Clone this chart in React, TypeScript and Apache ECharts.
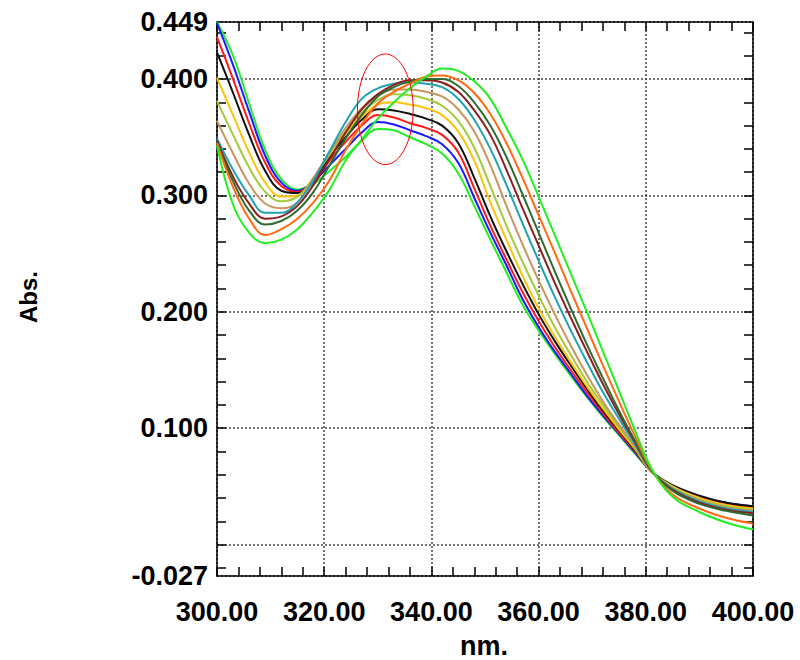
import React, { useEffect, useRef } from 'react';
import * as echarts from 'echarts';

// Wavelengths (nm) at which absorbance was read
const WAVELENGTHS = [300, 303, 306, 309, 312, 315, 318, 321, 324, 327, 330, 333, 336, 339, 342, 345, 348, 351, 354, 357, 360, 363, 366, 369, 372, 375, 378, 381, 385, 390, 395, 400];

// Absorbance of each spectrum (12 scans)
const ABS_1 = [0.449, 0.420, 0.379, 0.339, 0.314, 0.305, 0.310, 0.321, 0.333, 0.347, 0.357, 0.356, 0.350, 0.344, 0.336, 0.319, 0.291, 0.262, 0.234, 0.206, 0.184, 0.164, 0.145, 0.127, 0.110, 0.094, 0.078, 0.063, 0.050, 0.041, 0.036, 0.033];
const ABS_2 = [0.448, 0.412, 0.372, 0.334, 0.311, 0.304, 0.312, 0.326, 0.340, 0.354, 0.363, 0.361, 0.356, 0.351, 0.344, 0.328, 0.298, 0.268, 0.240, 0.211, 0.187, 0.166, 0.147, 0.128, 0.111, 0.095, 0.079, 0.063, 0.050, 0.041, 0.036, 0.033];
const ABS_3 = [0.436, 0.400, 0.362, 0.328, 0.308, 0.303, 0.313, 0.330, 0.346, 0.360, 0.369, 0.367, 0.362, 0.358, 0.352, 0.337, 0.306, 0.274, 0.245, 0.217, 0.192, 0.170, 0.150, 0.131, 0.113, 0.096, 0.080, 0.063, 0.050, 0.041, 0.035, 0.032];
const ABS_4 = [0.423, 0.388, 0.352, 0.321, 0.304, 0.302, 0.314, 0.333, 0.350, 0.365, 0.374, 0.373, 0.370, 0.366, 0.360, 0.345, 0.315, 0.282, 0.252, 0.224, 0.198, 0.175, 0.154, 0.134, 0.115, 0.098, 0.081, 0.063, 0.051, 0.042, 0.036, 0.033];
const ABS_5 = [0.401, 0.369, 0.337, 0.311, 0.299, 0.300, 0.315, 0.335, 0.353, 0.368, 0.378, 0.380, 0.378, 0.375, 0.369, 0.355, 0.330, 0.294, 0.262, 0.231, 0.203, 0.179, 0.157, 0.136, 0.117, 0.099, 0.082, 0.063, 0.050, 0.040, 0.034, 0.031];
const ABS_6 = [0.381, 0.352, 0.324, 0.303, 0.295, 0.299, 0.315, 0.336, 0.355, 0.371, 0.382, 0.387, 0.386, 0.383, 0.377, 0.364, 0.341, 0.308, 0.274, 0.243, 0.214, 0.187, 0.163, 0.140, 0.120, 0.101, 0.083, 0.063, 0.049, 0.039, 0.033, 0.030];
const ABS_7 = [0.364, 0.336, 0.310, 0.293, 0.289, 0.294, 0.315, 0.337, 0.358, 0.375, 0.386, 0.391, 0.391, 0.389, 0.385, 0.374, 0.355, 0.326, 0.291, 0.258, 0.227, 0.198, 0.171, 0.146, 0.123, 0.103, 0.084, 0.063, 0.048, 0.038, 0.032, 0.029];
const ABS_8 = [0.349, 0.322, 0.300, 0.285, 0.285, 0.294, 0.313, 0.338, 0.363, 0.383, 0.392, 0.396, 0.397, 0.396, 0.393, 0.383, 0.365, 0.340, 0.309, 0.276, 0.244, 0.213, 0.184, 0.157, 0.131, 0.108, 0.086, 0.064, 0.048, 0.037, 0.031, 0.028];
const ABS_9 = [0.347, 0.316, 0.293, 0.280, 0.282, 0.291, 0.309, 0.331, 0.354, 0.374, 0.387, 0.395, 0.399, 0.399, 0.397, 0.389, 0.373, 0.352, 0.322, 0.289, 0.257, 0.225, 0.195, 0.166, 0.138, 0.112, 0.088, 0.064, 0.047, 0.036, 0.030, 0.027];
const ABS_10 = [0.346, 0.312, 0.287, 0.275, 0.278, 0.287, 0.303, 0.326, 0.349, 0.369, 0.385, 0.393, 0.398, 0.400, 0.400, 0.394, 0.380, 0.360, 0.333, 0.301, 0.268, 0.235, 0.203, 0.172, 0.143, 0.115, 0.089, 0.064, 0.046, 0.035, 0.029, 0.025];
const ABS_11 = [0.345, 0.307, 0.280, 0.266, 0.271, 0.280, 0.294, 0.313, 0.339, 0.361, 0.379, 0.389, 0.396, 0.402, 0.403, 0.399, 0.388, 0.370, 0.345, 0.315, 0.283, 0.251, 0.218, 0.186, 0.154, 0.123, 0.093, 0.065, 0.043, 0.031, 0.023, 0.018];
const ABS_12 = [0.343, 0.292, 0.268, 0.259, 0.262, 0.271, 0.286, 0.305, 0.330, 0.348, 0.366, 0.380, 0.392, 0.402, 0.409, 0.407, 0.398, 0.383, 0.358, 0.331, 0.299, 0.266, 0.233, 0.200, 0.166, 0.132, 0.098, 0.066, 0.041, 0.028, 0.019, 0.013];

const SPECTRA = [ABS_1, ABS_2, ABS_3, ABS_4, ABS_5, ABS_6, ABS_7, ABS_8, ABS_9, ABS_10, ABS_11, ABS_12];
const COLORS = ['#22ee22', '#1a1aff', '#ff1a1a', '#111111', '#ffc20e', '#a4c93a', '#c8955f', '#1fa3b3', '#8b1f1f', '#2e6b2e', '#ff6a13', '#22ee22'];

// Axis setup
const X_MIN = 300;
const X_MAX = 400;
const X_STEP = 20;
const Y_MIN = -0.027;
const Y_MAX = 0.449;
const Y_MINOR_TICKS = [-0.02, 0, 0.02, 0.04, 0.06, 0.08, 0.1, 0.12, 0.14, 0.16, 0.18, 0.2, 0.22, 0.24, 0.26, 0.28, 0.3, 0.32, 0.34, 0.36, 0.38, 0.4, 0.42, 0.44];

// Red ellipse annotation (in data units)
const ELLIPSE_CENTER = [331.4, 0.374];
const ELLIPSE_HALF_NM = 5.2;
const ELLIPSE_HALF_ABS = 0.0475;

const FONT = '"Liberation Sans", Arial, sans-serif';

export default function App() {
  const ref = useRef<HTMLDivElement>(null);

  useEffect(() => {
    if (!ref.current) return;
    const chart = echarts.init(ref.current, null, { renderer: 'svg' });

    const axisLine = { show: true, onZero: false, lineStyle: { color: '#000', width: 1.5 } };
    const tickStyle = { color: '#000', width: 1.5 };
    const gridLine = { show: true, lineStyle: { color: '#444', width: 1.5, type: [2, 2] as any } };

    const series = SPECTRA.map((vals, i) => ({
      type: 'line',
      name: 'scan ' + (i + 1),
      xAxisIndex: 0,
      yAxisIndex: 0,
      data: WAVELENGTHS.map((w, j) => [w, vals[j]]),
      smooth: 0.4,
      showSymbol: false,
      symbol: 'none',
      clip: true,
      lineStyle: { color: COLORS[i], width: 2 },
      itemStyle: { color: COLORS[i] },
    }));

    chart.setOption({
      animation: false,
      backgroundColor: '#fff',
      grid: { left: 217, right: 47, top: 22, bottom: 84, containLabel: false },
      xAxis: [
        {
          type: 'value', position: 'bottom', min: X_MIN, max: X_MAX, interval: X_STEP,
          axisLine,
          axisTick: { show: true, inside: true, length: 9, lineStyle: tickStyle },
          minorTick: { show: true, splitNumber: 5, length: 9, lineStyle: tickStyle },
          axisLabel: {
            formatter: (v: number) => v.toFixed(2),
            fontSize: 27, fontWeight: 'bold', color: '#000', fontFamily: FONT, margin: 22,
          },
          splitLine: gridLine,
        },
        {
          type: 'value', position: 'top', min: X_MIN, max: X_MAX, interval: X_STEP,
          axisLine,
          axisTick: { show: true, inside: true, length: 9, lineStyle: tickStyle },
          minorTick: { show: true, splitNumber: 5, length: 9, lineStyle: tickStyle },
          axisLabel: { show: false },
          splitLine: { show: false },
        },
      ],
      yAxis: [
        {
          type: 'value', position: 'left', min: Y_MIN, max: Y_MAX, splitNumber: 5,
          axisLine,
          axisTick: { show: false },
          axisLabel: {
            formatter: (v: number) => (Math.abs(v) < 1e-9 ? '' : v.toFixed(3)),
            fontSize: 27, fontWeight: 'bold', color: '#000', fontFamily: FONT, margin: 9,
          },
          splitLine: gridLine,
        },
        {
          type: 'value', position: 'left', min: Y_MIN, max: Y_MAX,
          axisLine: { show: false },
          axisTick: { show: true, inside: true, length: 9, lineStyle: tickStyle, customValues: Y_MINOR_TICKS },
          axisLabel: { show: false },
          splitLine: { show: false },
        },
        {
          type: 'value', position: 'right', min: Y_MIN, max: Y_MAX,
          axisLine,
          axisTick: { show: true, inside: true, length: 9, lineStyle: tickStyle, customValues: Y_MINOR_TICKS },
          axisLabel: { show: false },
          splitLine: { show: false },
        },
      ],
      series,
      graphic: [
        {
          type: 'text', id: 'ylabel', x: 28, y: 297, rotation: Math.PI / 2,
          style: { text: 'Abs.', font: 'bold 24px ' + FONT, fill: '#000', align: 'center', verticalAlign: 'middle' },
        },
        {
          type: 'text', id: 'xlabel', x: 484, y: 646,
          style: { text: 'nm.', font: 'bold 27px ' + FONT, fill: '#000', align: 'center', verticalAlign: 'middle' },
        },
      ],
    });

    const c = chart.convertToPixel({ xAxisIndex: 0, yAxisIndex: 0 }, ELLIPSE_CENTER) as number[];
    const e = chart.convertToPixel({ xAxisIndex: 0, yAxisIndex: 0 }, [ELLIPSE_CENTER[0] + ELLIPSE_HALF_NM, ELLIPSE_CENTER[1] + ELLIPSE_HALF_ABS]) as number[];
    if (c && e) {
      chart.setOption({
        graphic: [
          {
            type: 'ellipse', id: 'mark', z: 100,
            shape: { cx: c[0], cy: c[1], rx: Math.abs(e[0] - c[0]), ry: Math.abs(c[1] - e[1]) },
            style: { fill: 'none', stroke: '#ff0000', lineWidth: 1 },
          },
        ],
      });
    }

    return () => chart.dispose();
  }, []);

  return (
    <div
      ref={ref}
      style={{ position: 'fixed', left: 0, top: 0, width: 800, height: 660, background: '#fff' }}
    />
  );
}
